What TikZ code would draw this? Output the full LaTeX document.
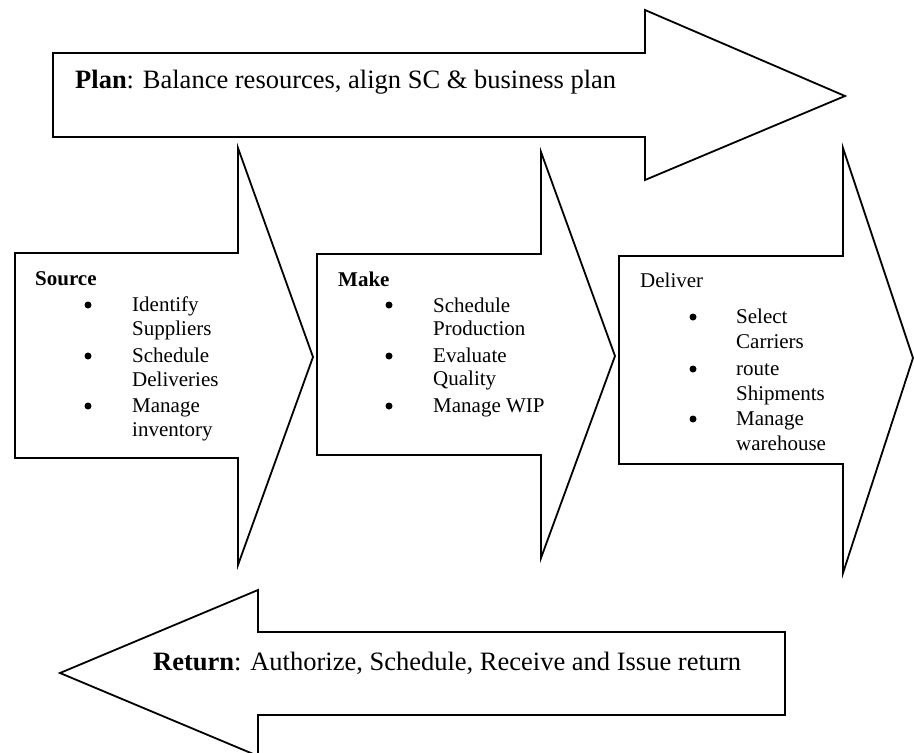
\documentclass[tikz,border=0pt]{standalone}
\usepackage{fontspec}
\setmainfont{Liberation Serif}
\begin{document}
\begin{tikzpicture}[x=1pt,y=-1pt,
  blockarrow/.style={draw=black,line width=1.8pt,line join=miter,fill=white},
  title/.style={anchor=base west,inner sep=0pt,font=\fontsize{26.5}{30}\selectfont},
  head/.style={anchor=base west,inner sep=0pt,font=\fontsize{21}{25}\selectfont},
  item/.style={anchor=base west,inner sep=0pt,font=\fontsize{21}{25}\selectfont},
  dot/.style={circle,fill=black,inner sep=0pt,minimum size=7pt}]
\useasboundingbox (0,0) rectangle (914,753);

% Plan (top, pointing right)
\draw[blockarrow] (53,53) -- (645,53) -- (645,10) -- (845,96) -- (645,180) -- (645,137) -- (53,137) -- cycle;
\node[title] (plan) at (75,88) {\textbf{Plan}: Balance resources, align SC \& business plan};

% Source
\draw[blockarrow] (15,253) -- (238,253) -- (238,148) -- (313,357) -- (238,565) -- (238,458) -- (15,458) -- cycle;
\node[head] (src) at (35,285) {\textbf{Source}};
\foreach \y/\t [count=\i] in {311/Identify,335/Suppliers,362/Schedule,386/Deliveries,412/Manage,436/inventory}
  \node[item] (src\i) at (132,\y) {\t};
\foreach \y [count=\i] in {305,356,406}
  \node[dot] (srcb\i) at (88,\y) {};

% Make
\draw[blockarrow] (317,254) -- (541,254) -- (541,152) -- (615,356) -- (541,558) -- (541,455) -- (317,455) -- cycle;
\node[head] (mk) at (338,286) {\textbf{Make}};
\foreach \y/\t [count=\i] in {312/Schedule,335/Production,362/Evaluate,385/Quality,412/Manage WIP}
  \node[item] (mk\i) at (433,\y) {\t};
\foreach \y [count=\i] in {305,356,406}
  \node[dot] (mkb\i) at (389,\y) {};

% Deliver
\draw[blockarrow] (619,256) -- (843,256) -- (843,148) -- (913,358) -- (843,573) -- (843,464) -- (619,464) -- cycle;
\node[head] (dl) at (640,287) {Deliver};
\foreach \y/\t [count=\i] in {323/Select,348/Carriers,375/route,400/Shipments,425/Manage,450/warehouse}
  \node[item] (dl\i) at (736,\y) {\t};
\foreach \y [count=\i] in {317,369,419}
  \node[dot] (dlb\i) at (693,\y) {};

% Return (bottom, pointing left)
\draw[blockarrow] (785,632) -- (258,632) -- (258,590) -- (60,673) -- (258,756) -- (258,715) -- (785,715) -- cycle;
\node[title] (ret) at (153,670) {\textbf{Return}: Authorize, Schedule, Receive and Issue return};
\end{tikzpicture}
\end{document}
